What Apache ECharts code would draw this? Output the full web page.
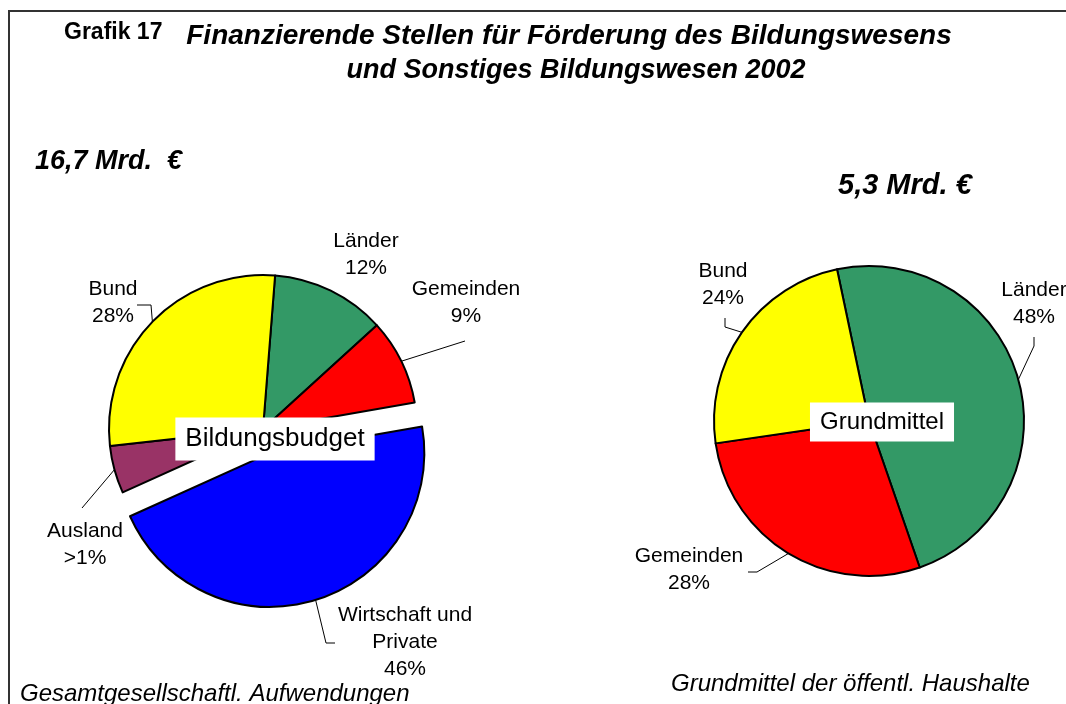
<!DOCTYPE html>
<html>
<head>
<meta charset="utf-8">
<script src="https://cdn.jsdelivr.net/npm/echarts@6/dist/echarts.min.js"></script>
<style>
  html, body { margin: 0; padding: 0; background: #fff; }
  #chart { width: 1066px; height: 704px; }
</style>
</head>
<body>
<div id="chart"></div>
<script>
// Bildungsbudget (16,7 Mrd. €)
const budgetNames = ['Länder', 'Gemeinden', 'Wirtschaft und\nPrivate', 'Ausland', 'Bund'];
const budgetValues = [12, 9, 46, 5, 28];
const budgetLabels = ['12%', '9%', '46%', '>1%', '28%'];

// Grundmittel der öffentl. Haushalte (5,3 Mrd. €)
const grundNames = ['Länder', 'Gemeinden', 'Bund'];
const grundValues = [48, 28, 24];
const grundLabels = ['48%', '28%', '24%'];

const COLORS = {
  'Länder': '#339966',
  'Gemeinden': '#ff0000',
  'Bund': '#ffff00',
  'Wirtschaft und\nPrivate': '#0000ff',
  'Ausland': '#993366'
};

const FONT = 'Liberation Sans, Arial, sans-serif';
const EXPLODED = 'Wirtschaft und\nPrivate';

// Lage der Beschriftungen (Mitte des Textblocks + Knickpunkte der Linie)
const budgetLabelPos = [
  { x: 366, y: 255, line: null },
  { x: 466, y: 303, line: [[465, 341]] },
  { x: 405, y: 642, line: [[326, 643], [335, 643]] },
  { x: 85, y: 545, line: [[82, 508]] },
  { x: 113, y: 303, line: [[151, 305], [137, 305]] }
];
const grundLabelPos = [
  { x: 1034, y: 304, line: [[1034, 346], [1034, 337]] },
  { x: 689, y: 570, line: [[757, 572], [748, 572]] },
  { x: 723, y: 285, line: [[725, 327], [725, 318]] }
];

// linke Torte: Mittelpunkt, Start, Versatz des herausgezogenen Stücks
const LEFT_CENTER = [263, 429];
const LEFT_START = 85.5;
const EXPLODE_OFFSET = 25;

function makeData(names, values, labels, visible) {
  return names.map((n, i) => {
    const show = visible(n);
    return {
      name: n,
      value: values[i],
      pct: labels[i],
      itemStyle: show ? { color: COLORS[n] } : { color: 'rgba(0,0,0,0)', borderWidth: 0 },
      label: { show: show },
      labelLine: { show: show && !(n === 'Länder' && names.length === 5) }
    };
  });
}

function layoutFor(table) {
  return params => {
    const p = table[params.dataIndex];
    const out = { x: p.x, y: p.y, align: 'center', verticalAlign: 'middle' };
    const pts = params.labelLinePoints;
    if (p.line && pts && pts.length) {
      out.labelLinePoints = [pts[0]].concat(p.line);
    }
    return out;
  };
}

// Versatz des herausgezogenen Stücks entlang seiner Mittelachse
function explodedCenter() {
  const total = budgetValues.reduce((a, b) => a + b, 0);
  const idx = budgetNames.indexOf(EXPLODED);
  const before = budgetValues.slice(0, idx).reduce((a, b) => a + b, 0);
  const mid = (LEFT_START - (before + budgetValues[idx] / 2) / total * 360) * Math.PI / 180;
  return [LEFT_CENTER[0] + Math.cos(mid) * EXPLODE_OFFSET, LEFT_CENTER[1] - Math.sin(mid) * EXPLODE_OFFSET];
}

const pieBase = {
  type: 'pie',
  clockwise: true,
  selectedMode: false,
  emphasis: { disabled: true },
  itemStyle: { borderColor: '#000', borderWidth: 2 },
  label: {
    show: true,
    position: 'outside',
    color: '#000',
    fontFamily: FONT,
    fontSize: 21,
    lineHeight: 27,
    align: 'center',
    overflow: 'none',
    formatter: p => p.name + '\n' + p.data.pct
  },
  labelLine: { show: true, length: 10, length2: 10, lineStyle: { color: '#000', width: 1 } }
};

const chart = echarts.init(document.getElementById('chart'));
chart.setOption({
  animation: false,
  backgroundColor: '#fff',
  series: [
    Object.assign({}, pieBase, {
      name: 'Bildungsbudget',
      center: LEFT_CENTER,
      radius: 154,
      startAngle: LEFT_START,
      data: makeData(budgetNames, budgetValues, budgetLabels, n => n !== EXPLODED),
      labelLayout: layoutFor(budgetLabelPos)
    }),
    Object.assign({}, pieBase, {
      name: 'Bildungsbudget (Wirtschaft)',
      center: explodedCenter(),
      radius: 154,
      startAngle: LEFT_START,
      data: makeData(budgetNames, budgetValues, budgetLabels, n => n === EXPLODED),
      labelLayout: layoutFor(budgetLabelPos)
    }),
    Object.assign({}, pieBase, {
      name: 'Grundmittel',
      center: [869, 421],
      radius: 155,
      startAngle: 101.9,
      data: makeData(grundNames, grundValues, grundLabels, () => true),
      labelLayout: layoutFor(grundLabelPos)
    })
  ],
  graphic: [
    { type: 'rect', z: 0, shape: { x: 9, y: 11, width: 1100, height: 720 },
      style: { fill: null, stroke: '#333', lineWidth: 2 } },
    { type: 'text', x: 64, y: 33, z: 10,
      style: { text: 'Grafik 17', font: 'bold 23px ' + FONT, fill: '#000', align: 'left', verticalAlign: 'middle' } },
    { type: 'text', x: 569, y: 36, z: 10,
      style: { text: 'Finanzierende Stellen für Förderung des Bildungswesens', font: 'italic bold 28px ' + FONT,
        fill: '#000', align: 'center', verticalAlign: 'middle' } },
    { type: 'text', x: 576, y: 71, z: 10,
      style: { text: 'und Sonstiges Bildungswesen 2002', font: 'italic bold 27px ' + FONT,
        fill: '#000', align: 'center', verticalAlign: 'middle' } },
    { type: 'text', x: 35, y: 162, z: 10,
      style: { text: '16,7 Mrd.  €', font: 'italic bold 27px ' + FONT, fill: '#000', align: 'left', verticalAlign: 'middle' } },
    { type: 'text', x: 838, y: 186, z: 10,
      style: { text: '5,3 Mrd. €', font: 'italic bold 29px ' + FONT, fill: '#000', align: 'left', verticalAlign: 'middle' } },
    { type: 'text', x: 275, y: 439, z: 100,
      style: { text: 'Bildungsbudget', font: '26px ' + FONT, fill: '#000', align: 'center', verticalAlign: 'middle',
        backgroundColor: '#fff', padding: [9, 10, 8, 10] } },
    { type: 'text', x: 882, y: 422, z: 100,
      style: { text: 'Grundmittel', font: '24px ' + FONT, fill: '#000', align: 'center', verticalAlign: 'middle',
        backgroundColor: '#fff', padding: [8, 10, 7, 10] } },
    { type: 'text', x: 20, y: 694, z: 10,
      style: { text: 'Gesamtgesellschaftl. Aufwendungen', font: 'italic 24px ' + FONT, fill: '#000',
        align: 'left', verticalAlign: 'middle' } },
    { type: 'text', x: 671, y: 684, z: 10,
      style: { text: 'Grundmittel der öffentl. Haushalte', font: 'italic 24px ' + FONT, fill: '#000',
        align: 'left', verticalAlign: 'middle' } }
  ]
});

window.addEventListener('resize', () => chart.resize());
</script>
</body>
</html>
